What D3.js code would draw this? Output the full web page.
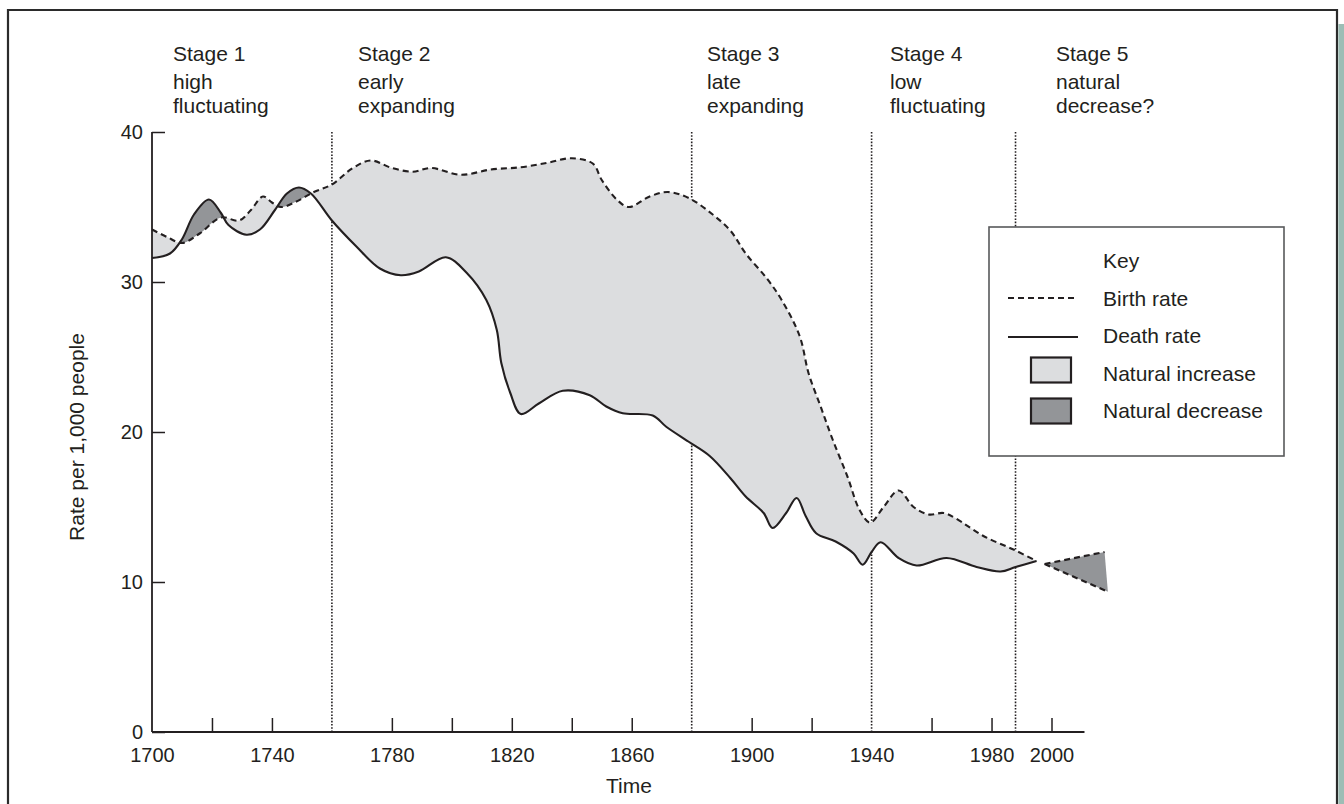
<!DOCTYPE html>
<html><head><meta charset="utf-8">
<script src="https://cdn.jsdelivr.net/npm/d3@7"></script>
<style>
body{margin:0;background:#fff}
svg{display:block}
text{font-family:"Liberation Sans",Arial,Helvetica,sans-serif;fill:#231f20}
</style>
</head><body>
<svg id="chart" width="1344" height="804"></svg>
<script>
// ---------- data ----------
const birthYears = [1700,1705,1710,1716,1723,1729,1733,1737,1740,1743,1748,1754,1760,1767,1773,1780,1787,1793,1803,1813,1823,1832,1840,1847,1850,1855,1859,1866,1872,1879,1887,1893,1898,1905,1910,1916,1919,1923,1927,1932,1936,1939.5,1944,1949,1954,1959,1964,1968,1977,1988,1995];
const birthRates = [33.5,33.0,32.6,33.25,34.3,34.1,34.8,35.7,35.3,35.0,35.35,36.0,36.5,37.6,38.1,37.6,37.35,37.6,37.15,37.5,37.65,37.95,38.25,37.9,36.8,35.5,35.0,35.7,36.0,35.6,34.5,33.4,31.9,30.25,28.8,26.4,23.9,21.7,19.5,17.0,14.8,13.96,15.0,16.1,15.0,14.5,14.6,14.25,13.1,12.1,11.4];
const deathYears = [1700,1706,1710,1714,1719,1723,1725.5,1731.5,1736,1741,1745,1749,1753,1760,1768,1776,1783,1789,1798,1805,1811.5,1815,1816.5,1819.5,1823,1829,1837,1846,1851.5,1857,1867,1871.5,1879,1886,1893,1898,1904,1907,1911.5,1915,1918,1921.5,1928,1934,1937,1940,1943,1949,1955,1965,1975,1983,1988,1995];
const deathRates = [31.6,31.9,32.85,34.5,35.5,34.6,33.8,33.15,33.5,34.8,35.9,36.3,35.9,34.1,32.4,30.9,30.45,30.7,31.65,30.6,28.8,26.8,24.6,22.6,21.2,21.9,22.75,22.45,21.7,21.25,21.1,20.35,19.35,18.4,16.9,15.7,14.6,13.6,14.6,15.6,14.4,13.25,12.7,11.9,11.15,12.0,12.65,11.6,11.1,11.6,11.0,10.7,11.0,11.4];
// Stage 5 projection
const projBirthYears = [1997.7, 2017.7];
const projBirthRates = [11.2, 12.0];
const projDeathYears = [1997.7, 2018.8];
const projDeathRates = [11.2, 9.35];

const stageBoundaries = [1760, 1880, 1940, 1988];
const stageTitles = ["Stage 1","Stage 2","Stage 3","Stage 4","Stage 5"];
const stageLine1 = ["high","early","late","low","natural"];
const stageLine2 = ["fluctuating","expanding","expanding","fluctuating","decrease?"];

const xTickYears = [1720,1740,1780,1800,1820,1840,1860,1900,1920,1960,1980,2000];
const xLabelYears = [1700,1740,1780,1820,1860,1900,1940,1980,2000];
const yTickValues = [0,10,20,30,40];

const legendLabels = ["Birth rate","Death rate","Natural increase","Natural decrease"];

// ---------- drawing ----------
const ink = "#231f20", light = "#dcdddf", dark = "#939598";
const svg = d3.select("#chart");
const x = d3.scaleLinear().domain([1700, 2000]).range([152, 1051.5]);
const y = d3.scaleLinear().domain([0, 40]).range([732, 132]);
const curve = d3.curveCatmullRom.alpha(0.5);

const birth = birthYears.map((yr,i)=>[yr, birthRates[i]]);
const death = deathYears.map((yr,i)=>[yr, deathRates[i]]);

// frame
svg.append("path").attr("d","M8,804 V10 H1337 V804").attr("fill","none").attr("stroke","#2b2b2b").attr("stroke-width",2.2);
svg.append("rect").attr("x",1338.4).attr("y",24).attr("width",6).attr("height",780).attr("fill","#9dbdb5");

// stage dotted lines
svg.append("g").selectAll("line").data(stageBoundaries).join("line")
  .attr("x1",d=>x(d)).attr("x2",d=>x(d)).attr("y1",y(40)).attr("y2",y(0))
  .attr("stroke",ink).attr("stroke-width",1.6).attr("stroke-dasharray","1.6,1.6");

// clip paths
const defs = svg.append("defs");
const belowArea = d3.area().x(d=>x(d[0])).y0(800).y1(d=>y(d[1])).curve(curve);
const aboveArea = d3.area().x(d=>x(d[0])).y0(0).y1(d=>y(d[1])).curve(curve);
defs.append("clipPath").attr("id","belowBirth").append("path").attr("d", belowArea(birth));
defs.append("clipPath").attr("id","belowDeath").append("path").attr("d", belowArea(death));

svg.append("path").attr("d", aboveArea(death)).attr("fill", light).attr("clip-path","url(#belowBirth)");
svg.append("path").attr("d", aboveArea(birth)).attr("fill", dark).attr("clip-path","url(#belowDeath)");

// stage 5 triangle
const pb = projBirthYears.map((yr,i)=>[yr, projBirthRates[i]]);
const pd = projDeathYears.map((yr,i)=>[yr, projDeathRates[i]]);
const tri = pb.concat(pd.slice().reverse());
const lin = d3.line().x(d=>x(d[0])).y(d=>y(d[1]));
svg.append("path").attr("d", lin(tri)+"Z").attr("fill", dark);
[pb, pd].forEach(p=>svg.append("path").attr("d", lin(p)).attr("fill","none")
  .attr("stroke",ink).attr("stroke-width",2.2).attr("stroke-dasharray","6,4"));

// lines
const line = d3.line().x(d=>x(d[0])).y(d=>y(d[1])).curve(curve);
svg.append("path").attr("d", line(death)).attr("fill","none").attr("stroke",ink).attr("stroke-width",2.1);
svg.append("path").attr("d", line(birth)).attr("fill","none").attr("stroke",ink).attr("stroke-width",2.1).attr("stroke-dasharray","6,4");

// axes
svg.append("line").attr("x1",x(1700)).attr("x2",x(2011)).attr("y1",y(0)).attr("y2",y(0)).attr("stroke",ink).attr("stroke-width",1.8);
svg.append("line").attr("x1",x(1700)).attr("x2",x(1700)).attr("y1",y(0)).attr("y2",y(40)).attr("stroke",ink).attr("stroke-width",1.8);

const xt = svg.append("g").attr("transform",`translate(0,${y(0)})`)
  .call(d3.axisBottom(x).tickValues(xTickYears).tickSize(-14).tickFormat(""));
xt.select(".domain").remove();
xt.selectAll("line").attr("stroke",ink).attr("stroke-width",1.5);

const xl = svg.append("g").attr("transform",`translate(0,${y(0)})`)
  .call(d3.axisBottom(x).tickValues(xLabelYears).tickSize(0).tickPadding(15.5).tickFormat(d3.format("d")));
xl.select(".domain").remove();
xl.selectAll("text").attr("font-size",20).attr("font-family",null).attr("fill",ink);

const ya = svg.append("g").attr("transform",`translate(${x(1700)},0)`)
  .call(d3.axisLeft(y).tickValues(yTickValues).tickSize(-13).tickPadding(9));
ya.select(".domain").remove();
ya.selectAll("line").attr("stroke",ink).attr("stroke-width",1.5);
ya.selectAll("text").attr("font-size",20).attr("font-family",null).attr("fill",ink).attr("dy","0.33em");

// axis titles
svg.append("text").attr("x",629).attr("y",793).attr("text-anchor","middle").attr("font-size",21).text("Time");
svg.append("text").attr("transform","translate(84,437) rotate(-90)").attr("text-anchor","middle").attr("font-size",21).text("Rate per 1,000 people");

// stage labels
const stageLabelX = [173, 358, 707, 890, 1056];
const sg = svg.append("g").selectAll("g").data(stageTitles).join("g");
sg.append("text").attr("x",(d,i)=>stageLabelX[i]).attr("y",61).attr("font-size",21).text(d=>d);
sg.append("text").attr("x",(d,i)=>stageLabelX[i]).attr("y",89).attr("font-size",21).text((d,i)=>stageLine1[i]);
sg.append("text").attr("x",(d,i)=>stageLabelX[i]).attr("y",113).attr("font-size",21).text((d,i)=>stageLine2[i]);

// legend
const lg = svg.append("g");
lg.append("rect").attr("x",989).attr("y",227).attr("width",295).attr("height",229).attr("fill","#fff").attr("stroke","#58595b").attr("stroke-width",1.6);
lg.append("text").attr("x",1103).attr("y",268).attr("font-size",21).text("Key");
const ly = [305.5, 343, 381, 418];
lg.selectAll("text.lab").data(legendLabels).join("text").attr("class","lab")
  .attr("x",1103).attr("y",(d,i)=>ly[i]).attr("font-size",21).text(d=>d);
lg.append("line").attr("x1",1008).attr("x2",1078).attr("y1",298).attr("y2",298).attr("stroke",ink).attr("stroke-width",2.1).attr("stroke-dasharray","6,4");
lg.append("line").attr("x1",1008).attr("x2",1078).attr("y1",337).attr("y2",337).attr("stroke",ink).attr("stroke-width",2.1);
lg.append("rect").attr("x",1031).attr("y",357.5).attr("width",40).attr("height",25).attr("fill",light).attr("stroke",ink).attr("stroke-width",2.2);
lg.append("rect").attr("x",1031).attr("y",398.5).attr("width",40).attr("height",25).attr("fill",dark).attr("stroke",ink).attr("stroke-width",2.2);
</script>
</body></html>
